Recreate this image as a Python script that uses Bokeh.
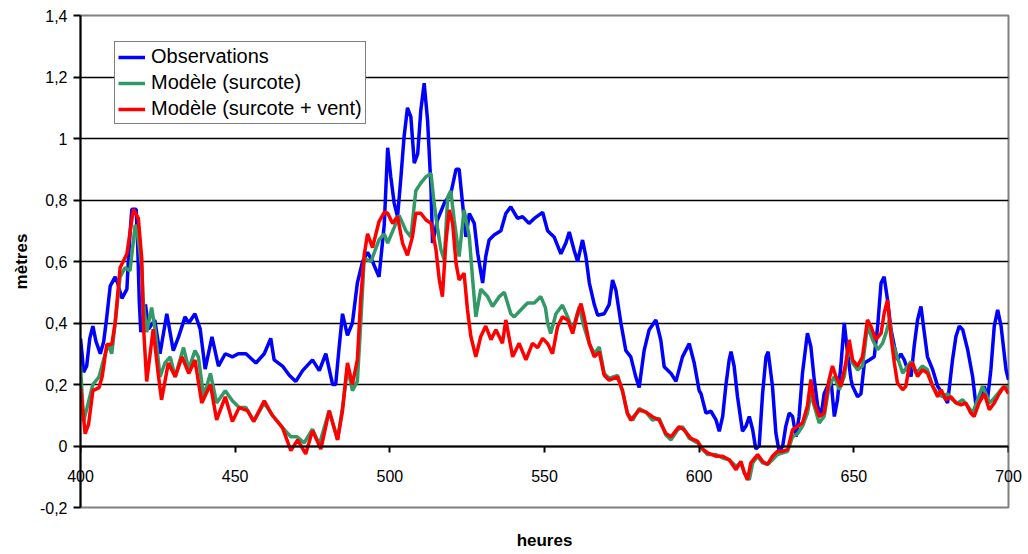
from bokeh.plotting import figure
from bokeh.models import FixedTicker, CustomJSTickFormatter, Range1d, LinearAxis
from bokeh.embed import file_html
from bokeh.resources import INLINE

# ---------------- data ----------------
obs_h = [400, 400.5, 401, 402, 403, 404, 405, 406.4, 407.5, 408.5, 409.6, 411.2, 412, 413.4, 415, 415.5, 416,
         416.6, 418, 418.5, 419, 419.5, 421, 422, 424, 425.7, 427.9, 430, 431.7, 433.8, 435, 437, 438.7, 440.3,
         442.5, 444.6, 446.8, 449.1, 451, 453.5, 456.7, 459.4, 461.5, 462.6, 465.3, 467.5, 469.6, 471.8, 475,
         477.2, 479.3, 481.5, 482.5, 483.6, 484.7, 486.3, 487.9, 489.5, 491.2, 492.8, 494.4, 496.5, 498.2, 499.3,
         500.3, 501.4, 502.5, 503.6, 504.6, 505.7, 506.8, 507.9, 509, 510, 511.1, 512.2, 513.3, 513.8, 515.4,
         517.6, 519.7, 521.4, 522.4, 523.5, 524.6, 525.7, 527.3, 528.4, 530, 531, 532.1, 533.7, 535.9, 537.5,
         539.1, 541.3, 542.9, 545, 546.7, 549.4, 551, 553.1, 555.3, 556.9, 558, 559.6, 560.7, 562.3, 563.4,
         564.5, 566.1, 567.2, 569.3, 570.9, 572, 573.1, 574.7, 576.3, 577.9, 579.5, 580.6, 582.2, 583.8, 586,
         587.6, 588.7, 590.9, 592.5, 594.6, 596.8, 598.4, 600, 600.6, 602.2, 603.8, 605.4, 606.5, 607.6, 608.6,
         609.7, 610.3, 611.3, 612.4, 614, 615.1, 616.2, 617.3, 618.3, 619.4, 620.5, 621.6, 622.3, 623.7, 624.8,
         625.9, 627, 628, 629.1, 630.2, 631.3, 632.3, 633.4, 635, 636.1, 637.2, 638.3, 639.4, 640.4, 641.5,
         642.6, 643.7, 644.7, 645.8, 646.9, 648, 649.1, 649.6, 651.2, 652.3, 653.4, 655, 656.6, 657.7, 658.8,
         659.8, 660.9, 662, 663.1, 664.1, 665.2, 666.3, 667.4, 668.5, 669.5, 670.6, 671.7, 672.8, 673.8, 675.5,
         677.1, 678.7, 680.3, 681.9, 683, 684.1, 685.2, 686.8, 688.4, 689.5, 691.1, 692.2, 693.2, 694.3, 695.4,
         696.5, 697.6, 699.2, 700]
obs_v = [0.35, 0.30, 0.24, 0.26, 0.35, 0.39, 0.34, 0.30, 0.34, 0.42, 0.52, 0.55, 0.53, 0.48, 0.51, 0.61, 0.69,
         0.77, 0.77, 0.65, 0.47, 0.37, 0.46, 0.38, 0.41, 0.30, 0.43, 0.31, 0.355, 0.42, 0.40, 0.43, 0.38, 0.25,
         0.355, 0.26, 0.30, 0.29, 0.30, 0.30, 0.27, 0.30, 0.35, 0.28, 0.26, 0.23, 0.21, 0.245, 0.28,
         0.245, 0.30, 0.20, 0.20, 0.32, 0.43, 0.36, 0.40, 0.53, 0.60, 0.63, 0.60, 0.55, 0.72, 0.97,
         0.876, 0.79, 0.746, 0.876, 1.005, 1.10, 1.07, 0.92, 0.95, 1.09, 1.18, 1.06, 0.84, 0.66, 0.735,
         0.79, 0.82, 0.90, 0.90, 0.79, 0.68, 0.756, 0.724, 0.627, 0.53, 0.616, 0.67, 0.686, 0.70, 0.756,
         0.778, 0.74, 0.746, 0.724, 0.74, 0.76, 0.70, 0.68, 0.625, 0.66, 0.696, 0.636, 0.60, 0.67, 0.615,
         0.53, 0.46, 0.425, 0.43, 0.46, 0.54, 0.506, 0.40, 0.31, 0.29, 0.225, 0.19, 0.31, 0.377, 0.41,
         0.344, 0.258, 0.236, 0.21, 0.29, 0.333, 0.27, 0.18, 0.17, 0.107, 0.113, 0.086, 0.048, 0.096, 0.194,
         0.28, 0.307, 0.26, 0.16, 0.048, 0.064, 0.096, 0.053, -0.01, 0.0, 0.17, 0.29, 0.307, 0.194, 0.042,
         -0.02, 0.0, 0.064, 0.107, 0.096, 0.03, 0.096, 0.237, 0.367, 0.324, 0.216, 0.13, 0.096, 0.17, 0.194,
         0.216, 0.096, 0.15, 0.26, 0.40, 0.30, 0.216, 0.194, 0.16, 0.17, 0.27, 0.28, 0.29, 0.39, 0.53,
         0.55, 0.475, 0.38, 0.324, 0.28, 0.30, 0.28, 0.248, 0.226, 0.324, 0.41, 0.454, 0.367, 0.29, 0.248,
         0.194, 0.17, 0.14, 0.28, 0.356, 0.39, 0.378, 0.313, 0.226, 0.13, 0.16, 0.194, 0.15, 0.248, 0.39,
         0.443, 0.39, 0.248, 0.215]

surcote_h = [400, 401, 402, 404, 406, 408, 409, 410.1, 411.2, 412.8, 414.4, 416, 417.7, 418.7, 419.8, 420.3,
             421.4, 423, 424.1, 425.7, 427.3, 429, 430.6, 433.3, 435, 437, 438.1, 439.8, 442, 444, 446.8, 449.1,
             451.3, 453.5, 456, 459.4, 462, 465.3, 468, 470, 472.3, 475, 477.2, 480.4, 483.1, 484.7, 486.3,
             487.9, 489.5, 490.6, 491.7, 493.9, 496.5, 498.2, 499.3, 501.4, 503, 505.2, 506.8, 508.4, 510,
             511.7, 513.3, 514.3, 515.4, 516.5, 517.6, 518.7, 519.7, 520.8, 522.4, 524, 525.7, 526.7, 527.8,
             529.4, 531.6, 533.2, 535.4, 537, 539.1, 540.2, 542.4, 544.5, 546.7, 548.8, 550.3, 551, 552, 553.7,
             555.8, 557.5, 559.1, 561.2, 562.8, 564.5, 566.1, 567.7, 569.3, 570.9, 573.6, 575.2, 576.8, 578.5,
             580.6, 582.8, 584.9, 587.1, 589.2, 590.9, 593, 594.6, 596.8, 599.5, 601.1, 602.7, 605.4, 607.6,
             609.7, 611.9, 613.5, 614.6, 616.2, 617.3, 618.9, 620.5, 622.1, 623.7, 625.3, 627, 628.6, 630.2,
             631.8, 633.4, 635, 636.1, 637.2, 638.8, 640.4, 642, 643.7, 645.3, 646.9, 648.5, 649.6, 651.2,
             652.8, 654.4, 656.1, 657.7, 659.3, 660.4, 661.5, 662.5, 663.6, 664.7, 665.8, 667.4, 668.5, 670.1,
             672.2, 673.8, 675.5, 677.1, 678.7, 680.3, 681.9, 683.5, 685.2, 686.8, 688.4, 690, 691.6, 692.7,
             693.8, 694.9, 696.5, 698.1, 699.7, 700]
surcote_v = [0.26, 0.08, 0.12, 0.20, 0.225, 0.30, 0.33, 0.30, 0.40, 0.55, 0.58, 0.57, 0.72, 0.67, 0.58, 0.47,
             0.37, 0.45, 0.38, 0.225, 0.27, 0.29, 0.225, 0.32, 0.25, 0.31, 0.29, 0.16, 0.236, 0.14, 0.18, 0.147,
             0.125, 0.125, 0.08, 0.14, 0.10, 0.06, 0.03, 0.03, 0.01, 0.055, 0.005, 0.115, 0.02, 0.125, 0.255,
             0.18, 0.21, 0.40, 0.61, 0.60, 0.67, 0.69, 0.66, 0.71, 0.75, 0.70, 0.68, 0.83, 0.855,
             0.876, 0.886, 0.79, 0.71, 0.64, 0.605, 0.81, 0.83, 0.735, 0.616, 0.768, 0.68, 0.55, 0.42,
             0.51, 0.486, 0.454, 0.486, 0.50, 0.43, 0.42, 0.443, 0.465, 0.465, 0.486, 0.45, 0.40, 0.366, 0.43,
             0.458, 0.42, 0.377, 0.452, 0.387, 0.333, 0.30, 0.322, 0.236, 0.22, 0.23, 0.18, 0.106, 0.084,
             0.122, 0.11, 0.084, 0.09, 0.036, 0.02, 0.052, 0.063, 0.025, 0.01, -0.01, -0.028, -0.028, -0.039,
             -0.045, -0.066, -0.055, -0.087, -0.11, -0.055, -0.033, -0.055, -0.06, -0.045, -0.028, -0.022, -0.017, 0.03,
             0.04, 0.064, 0.107, 0.17, 0.13, 0.075, 0.096, 0.194, 0.226, 0.183, 0.226, 0.334, 0.27, 0.248,
             0.26, 0.39, 0.345, 0.313, 0.334, 0.367, 0.41, 0.334, 0.302, 0.27, 0.237, 0.26, 0.275, 0.237,
             0.26, 0.248, 0.194, 0.17, 0.16, 0.17, 0.15, 0.14, 0.15, 0.13, 0.107, 0.15, 0.194, 0.17,
             0.14, 0.15, 0.17, 0.19, 0.194, 0.18]

vent_h = [400, 401.5, 402.6, 404, 406, 407, 408.5, 410.1, 411.2, 412.8, 415, 417.1, 418.7, 419.8, 420.3, 421.4,
          423.5, 425.1, 426.2, 428.4, 430.6, 432.8, 435, 437, 439.2, 442, 444, 446.8, 449.1, 451.3, 454, 456,
          459.4, 462, 465.3, 468, 470.2, 472.8, 475, 477.7, 480.4, 483.1, 484.7, 486.3, 487.9, 489.5, 490.6,
          491.7, 492.8, 494.4, 496.5, 498.2, 499.3, 500.9, 502.5, 504.1, 505.7, 507.3, 508.4, 510, 511.7, 513.3,
          514.9, 516, 517, 518.1, 519.2, 520.3, 521.4, 522.4, 524, 525.1, 526.2, 527.8, 529.4, 531, 532.7, 534.3,
          536.4, 537.5, 539.7, 541.8, 544, 546.1, 547.8, 549.4, 551, 552.6, 554.2, 555.8, 557.5, 559.1, 560.7,
          561.8, 562.8, 564.5, 566.1, 567.7, 569.3, 570.9, 573.6, 575.2, 576.8, 577.9, 580.6, 582.8, 584.9,
          587.1, 589.2, 590.9, 593.5, 595.2, 597.3, 599.5, 601.1, 602.7, 605.4, 607.6, 609.7, 611.9, 613.5,
          614.6, 615.6, 616.7, 618.9, 620.5, 622.1, 623.7, 625.3, 627, 628.6, 630.2, 631.8, 633.4, 635, 636.1,
          637.2, 638.8, 640.4, 642, 643.1, 644.2, 645.8, 647.4, 648.5, 649.6, 651.2, 652.8, 654.4, 655.5, 657.1,
          658.8, 659.8, 660.9, 662, 663.1, 664.1, 665.8, 666.8, 667.9, 669, 670.6, 672.2, 673.8, 675.5, 677.1,
          678.2, 679.8, 681.4, 683, 684.6, 686.2, 687.8, 688.9, 690.5, 692.2, 693.8, 695.4, 697, 698.6, 700]
vent_v = [0.19, 0.04, 0.07, 0.18, 0.19, 0.225, 0.33, 0.33, 0.40, 0.58, 0.625, 0.77, 0.74, 0.61, 0.40, 0.21,
          0.38, 0.236, 0.15, 0.27, 0.225, 0.29, 0.236, 0.28, 0.14, 0.20, 0.085, 0.16, 0.08, 0.125, 0.115, 0.08,
          0.147, 0.10, 0.06, -0.015, 0.02, -0.026, 0.05, -0.01, 0.115, 0.02, 0.115, 0.27, 0.20, 0.28, 0.48,
          0.62, 0.69, 0.645, 0.73, 0.76, 0.757, 0.724, 0.746, 0.66, 0.62, 0.68, 0.757, 0.757, 0.735, 0.724,
          0.64, 0.54, 0.486, 0.66, 0.768, 0.724, 0.594, 0.54, 0.562, 0.443, 0.356, 0.29, 0.356, 0.39, 0.346, 0.378,
          0.334, 0.41, 0.29, 0.334, 0.28, 0.334, 0.32, 0.35, 0.333, 0.30, 0.387, 0.42, 0.41, 0.366, 0.43,
          0.463, 0.42, 0.333, 0.29, 0.306, 0.23, 0.214, 0.225, 0.18, 0.106, 0.084, 0.117, 0.11, 0.095,
          0.084, 0.041, 0.03, 0.063, 0.052, 0.025, 0.015, -0.01, -0.022, -0.033, -0.033, -0.045, -0.077, -0.05,
          -0.087, -0.11, -0.055, -0.028, -0.05, -0.06, -0.033, -0.017, -0.017, -0.012, 0.053, 0.064, 0.075, 0.13, 0.216,
          0.14, 0.096, 0.107, 0.216, 0.26, 0.226, 0.194, 0.27, 0.345, 0.28, 0.26, 0.29, 0.41, 0.39, 0.345,
          0.367, 0.432, 0.475, 0.356, 0.27, 0.205, 0.183, 0.194, 0.26, 0.27, 0.226, 0.248, 0.237, 0.194, 0.16,
          0.183, 0.15, 0.16, 0.14, 0.134, 0.14, 0.107, 0.096, 0.14, 0.17, 0.118, 0.14, 0.17, 0.194, 0.17]

y_ticks = [-0.2, 0.0, 0.2, 0.4, 0.6, 0.8, 1.0, 1.2, 1.4]
grid_ticks = [0.0, 0.2, 0.4, 0.6, 0.8, 1.0, 1.2]
x_ticks = [400, 450, 500, 550, 600, 650, 700]

FONT = "Liberation Sans"

p = figure(width=1023, height=553, x_range=Range1d(400, 700), y_range=Range1d(-0.2, 1.4),
           output_backend="svg", toolbar_location=None,
           min_border_left=80, min_border_right=15, min_border_top=15, min_border_bottom=46)
p.background_fill_color = "white"
p.border_fill_color = "white"
p.outline_line_color = "#808080"
p.outline_line_width = 2

# bottom axis: carries the tick labels (pulled up to sit under the y = 0 line) and the title
xb = p.xaxis[0]
xb.ticker = FixedTicker(ticks=x_ticks)
xb.axis_line_color = None
xb.major_tick_line_color = None
xb.minor_tick_line_color = None
xb.major_tick_in = 0
xb.major_tick_out = 0
xb.major_label_standoff = -38
xb.major_label_text_font = FONT
xb.major_label_text_font_size = "16px"
xb.major_label_text_color = "black"
xb.axis_label = "heures"
xb.axis_label_text_font = FONT
xb.axis_label_text_font_style = "bold"
xb.axis_label_text_font_size = "17px"
xb.axis_label_text_color = "black"
xb.axis_label_standoff = 46

# axis line and tick marks drawn at y = 0
xa = LinearAxis(fixed_location=0, ticker=FixedTicker(ticks=x_ticks))
xa.minor_tick_line_color = None
xa.major_tick_in = 0
xa.major_tick_out = 6
xa.major_tick_line_color = "black"
xa.major_tick_line_width = 2
xa.axis_line_color = "black"
xa.axis_line_width = 2
xa.major_label_text_alpha = 0
p.add_layout(xa, "below")

ya = p.yaxis[0]
ya.ticker = FixedTicker(ticks=y_ticks)
ya.formatter = CustomJSTickFormatter(code="return tick.toFixed(1).replace('.', ',').replace(/,0$/, '');")
ya.minor_tick_line_color = None
ya.major_tick_in = 0
ya.major_tick_out = 7
ya.major_tick_line_width = 2
ya.major_tick_line_color = "black"
ya.axis_line_color = "black"
ya.axis_line_width = 2
ya.major_label_standoff = 6
ya.major_label_text_font = FONT
ya.major_label_text_font_size = "16px"
ya.major_label_text_color = "black"
ya.axis_label = "mètres"
ya.axis_label_text_font = FONT
ya.axis_label_text_font_style = "bold"
ya.axis_label_text_font_size = "17px"
ya.axis_label_text_color = "black"
ya.axis_label_standoff = 6

p.xgrid.visible = False
p.ygrid.ticker = FixedTicker(ticks=grid_ticks)
p.ygrid.grid_line_color = "black"
p.ygrid.grid_line_width = 1.6

p.line(obs_h, obs_v, line_color="#0000FF", line_width=3.5, legend_label="Observations")
p.line(surcote_h, surcote_v, line_color="#339966", line_width=3.5, legend_label="Modèle (surcote)")
p.line(vent_h, vent_v, line_color="#FF0000", line_width=3.5, legend_label="Modèle (surcote + vent)")

lg = p.legend[0]
lg.location = (34, 383)
lg.border_line_color = "black"
lg.border_line_width = 1.5
lg.background_fill_color = "white"
lg.background_fill_alpha = 1
lg.label_text_font = FONT
lg.label_text_font_size = "20px"
lg.label_text_color = "black"
lg.glyph_width = 27
lg.glyph_height = 20
lg.label_height = 20
lg.label_standoff = 6
lg.spacing = 3
lg.padding = 3
lg.margin = 0

open("out.html", "w").write(file_html(p, INLINE))
